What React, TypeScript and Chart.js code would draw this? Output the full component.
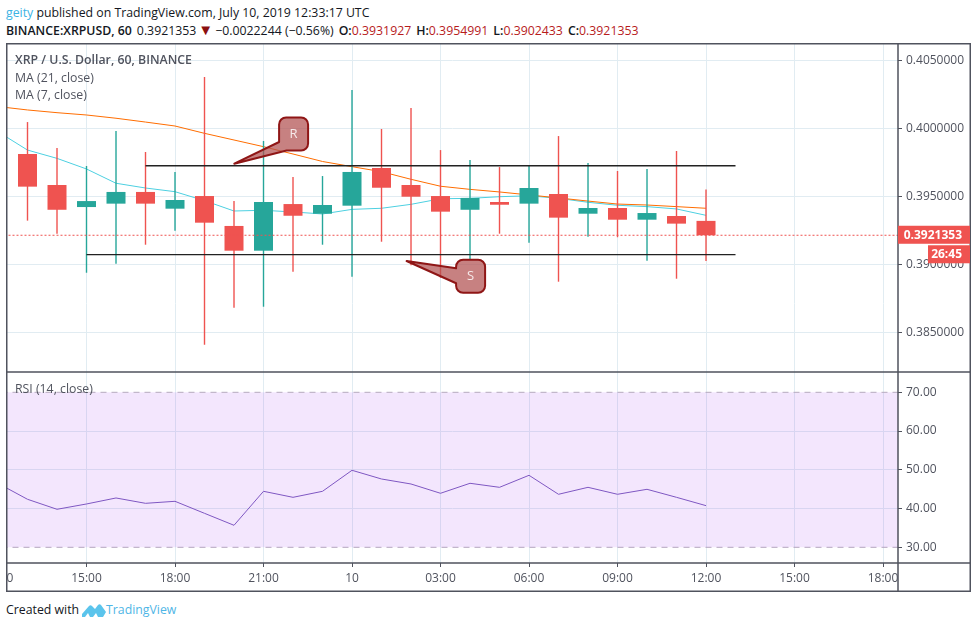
import { Chart, registerables } from "chart.js";
import { useEffect, useRef } from "react";

Chart.register(...registerables);

const opens = [0.39811, 0.39583, 0.39421, 0.39446, 0.39532, 0.39409, 0.39502, 0.39282, 0.391, 0.39443, 0.39372, 0.39431, 0.39708, 0.39583, 0.39502, 0.39401, 0.39458, 0.39446, 0.39517, 0.39372, 0.39414, 0.39328, 0.39355, 0.3931927];
const highs = [0.40046, 0.39855, 0.39723, 0.3998, 0.39826, 0.39679, 0.40377, 0.39465, 0.39907, 0.39642, 0.39649, 0.40282, 0.39995, 0.40149, 0.3984, 0.39767, 0.39715, 0.39723, 0.39943, 0.39745, 0.39686, 0.39701, 0.39833, 0.3954991];
const lows = [0.39321, 0.39225, 0.38938, 0.39004, 0.39144, 0.39247, 0.38409, 0.38681, 0.38688, 0.38946, 0.39144, 0.38909, 0.39166, 0.38993, 0.38901, 0.39032, 0.39225, 0.39159, 0.38872, 0.39203, 0.39199, 0.39026, 0.38894, 0.3902433];
const closes = [0.39571, 0.39401, 0.39465, 0.39532, 0.39446, 0.39473, 0.39306, 0.391, 0.39458, 0.39357, 0.39436, 0.39679, 0.39563, 0.39497, 0.39387, 0.39488, 0.39438, 0.39561, 0.39343, 0.39414, 0.39328, 0.39377, 0.39299, 0.3921353];

// both averages and the RSI start one bar before the first visible candle
const ma21 = [0.4016, 0.40135, 0.40115, 0.40098, 0.40074, 0.40046, 0.40017, 0.39963, 0.39914, 0.39865, 0.39811, 0.39756, 0.39718, 0.39681, 0.39625, 0.39574, 0.39551, 0.39532, 0.3951, 0.39488, 0.39465, 0.39443, 0.39436, 0.39424, 0.39412];
const ma7 = [0.39975, 0.3984, 0.39779, 0.39701, 0.39596, 0.39561, 0.39534, 0.39468, 0.39392, 0.39397, 0.39385, 0.3937, 0.39404, 0.39412, 0.39441, 0.39482, 0.39485, 0.39497, 0.39504, 0.39485, 0.39456, 0.39434, 0.39424, 0.39407, 0.3936];
const rsi = [46.5, 42.39, 39.81, 41.18, 42.73, 41.35, 41.87, 38.77, 35.68, 44.45, 42.9, 44.45, 49.87, 47.63, 46.34, 43.94, 46.52, 45.48, 48.58, 43.68, 45.48, 43.68, 44.97, 42.9, 40.75];

const timeTicks = [-1, 2, 5, 8, 11, 14, 17, 20, 23, 26, 29];
const timeLabels = ["12:00", "15:00", "18:00", "21:00", "10", "03:00", "06:00", "09:00", "12:00", "15:00", "18:00"];

const lastPrice = 0.3921353;
const resistance = 0.39725;
const support = 0.39071;
const resistanceFrom = 4;
const supportFrom = 2;
const levelsTo = 24;

const RED = "#ef5350";
const TEAL = "#26a69a";
const INK = "#50535e";
const GRID = "#e1ecf2";
const FONT = "'Open Sans', sans-serif";

const bar = (i: number) => i - 1;
const flat = (y: number, from = -2, to = 31) => [
  { x: from, y },
  { x: to, y },
];

const calloutPlugin = {
  id: "callouts",
  afterDatasetsDraw(chart: any) {
    const { ctx, scales } = chart;
    const hw = 14.5;
    const hh = 16.5;
    const r = 7;
    const draw = (label: string, tipX: number, tipY: number, cX: number, cY: number, onBottom: boolean) => {
      const tx = scales.x.getPixelForValue(tipX);
      const ty = scales.price.getPixelForValue(tipY);
      const cx = scales.x.getPixelForValue(cX);
      const cy = scales.price.getPixelForValue(cY);
      const [l, rt, t, b] = [cx - hw, cx + hw, cy - hh, cy + hh];
      ctx.save();
      ctx.beginPath();
      ctx.moveTo(tx, ty);
      ctx.lineTo(l, onBottom ? cy + 8 : cy - 8);
      ctx.arcTo(l, t, rt, t, r);
      ctx.arcTo(rt, t, rt, b, r);
      ctx.arcTo(rt, b, l, b, r);
      if (onBottom) {
        ctx.lineTo(cx - 7, b);
      } else {
        ctx.arcTo(l, b, l, t, r);
        ctx.lineTo(l, cy + 7);
      }
      ctx.closePath();
      ctx.fillStyle = "rgba(178,80,80,0.72)";
      ctx.strokeStyle = "#8f1616";
      ctx.lineWidth = 2;
      ctx.lineJoin = "round";
      ctx.fill();
      ctx.stroke();
      ctx.fillStyle = "#f6eaea";
      ctx.font = `13px ${FONT}`;
      ctx.textAlign = "center";
      ctx.textBaseline = "middle";
      ctx.fillText(label, cx, cy);
      ctx.restore();
    };
    draw("R", 7.01, 0.3974, 9.02, 0.39958, true);
    draw("S", 12.85, 0.39024, 15.02, 0.38912, false);
  },
};

const framePlugin = {
  id: "frame",
  afterDraw(chart: any) {
    const { ctx, chartArea, scales, width, height } = chart;
    const { left, right, top, bottom } = chartArea;
    ctx.save();
    // time labels stop at the price axis
    ctx.fillStyle = "#fff";
    ctx.fillRect(right, bottom, width - right, height - bottom);

    ctx.strokeStyle = INK;
    ctx.lineWidth = 1.5;
    ctx.beginPath();
    ctx.rect(left - 0.25, top - 0.25, width - left - 0.5, height - top - 0.5);
    ctx.moveTo(right, top);
    ctx.lineTo(right, height);
    ctx.moveTo(left, scales.rsi.top);
    ctx.lineTo(width, scales.rsi.top);
    ctx.moveTo(left, bottom);
    ctx.lineTo(width, bottom);
    ctx.stroke();

    // last price and countdown tags
    const y = scales.price.getPixelForValue(lastPrice);
    ctx.fillStyle = RED;
    ctx.fillRect(right, y - 9.5, width - right - 1, 18);
    ctx.fillRect(right + 30, y + 10, width - right - 31, 18);
    ctx.fillStyle = "#fff";
    ctx.font = `bold 12px ${FONT}`;
    ctx.textBaseline = "middle";
    ctx.textAlign = "right";
    ctx.fillText(lastPrice.toFixed(7), right + 64, y);
    ctx.fillText("26:45", right + 64, y + 19.5);
    ctx.restore();
  },
};

function PriceChart() {
  const canvasRef = useRef<HTMLCanvasElement | null>(null);

  useEffect(() => {
    if (!canvasRef.current) return;

    const line = (data: any[], yAxisID: string, color: string, order: number, extra = {}) => ({
      type: "line" as const,
      data,
      yAxisID,
      xAxisID: "x",
      order,
      borderColor: color,
      borderWidth: 1,
      pointRadius: 0,
      tension: 0,
      fill: false,
      ...extra,
    });

    const colors = closes.map((c, i) => (c >= opens[i] ? TEAL : RED));

    const sideAxis = (stackWeight: number, weight: number) => ({
      type: "linear" as const,
      position: "right" as const,
      stack: "panes",
      stackWeight,
      weight,
      border: { display: false },
      afterFit: (scale: any) => {
        scale.width = 72;
        scale.paddingTop = 0;
        scale.paddingBottom = 0;
      },
    });

    const tickFont = { family: FONT, size: 12 };

    const chart = new Chart(canvasRef.current, {
      type: "bar",
      plugins: [calloutPlugin, framePlugin],
      data: {
        datasets: [
          line(flat(resistance, resistanceFrom, levelsTo), "price", "#222", 1, { borderWidth: 1.4 }),
          line(flat(support, supportFrom, levelsTo), "price", "#222", 1, { borderWidth: 1.4 }),
          line(flat(lastPrice), "price", RED, 2, { borderDash: [2, 2] }),
          {
            data: opens.map((o, i) => ({ x: i, y: [o, closes[i]] })),
            yAxisID: "price",
            xAxisID: "x",
            order: 3,
            grouped: false,
            barThickness: 19,
            inflateAmount: 0,
            backgroundColor: colors,
            borderWidth: 0,
          },
          {
            data: lows.map((l, i) => ({ x: i, y: [l, highs[i]] })),
            yAxisID: "price",
            xAxisID: "x",
            order: 4,
            grouped: false,
            barThickness: 1.4,
            inflateAmount: 0,
            backgroundColor: colors,
            borderWidth: 0,
          },
          line(ma21.map((y, i) => ({ x: bar(i), y })), "price", "#ff6d00", 5),
          line(ma7.map((y, i) => ({ x: bar(i), y })), "price", "#4dd0e1", 5),
          line(rsi.map((y, i) => ({ x: bar(i), y })), "rsi", "#7e57c2", 6),
          line(flat(70), "rsi", "#b5a9bd", 7, {
            borderDash: [6, 5],
            fill: { value: 30 },
            backgroundColor: "rgba(160,60,240,0.13)",
          }),
          line(flat(30), "rsi", "#b5a9bd", 7, { borderDash: [6, 5] }),
        ] as any,
      },
      options: {
        responsive: false,
        animation: false,
        events: [],
        layout: { padding: { left: 1, top: 1, right: 1, bottom: 1 } },
        plugins: { legend: { display: false }, tooltip: { enabled: false } },
        scales: {
          x: {
            type: "linear",
            offset: false,
            min: -0.695,
            max: 29.508,
            grid: { offset: false, color: GRID, tickColor: INK, tickLength: 4 },
            border: { display: false },
            afterBuildTicks: (scale: any) => {
              scale.ticks = timeTicks.map((value) => ({ value }));
            },
            afterFit: (scale: any) => {
              scale.height = 28;
              scale.paddingLeft = 0;
              scale.paddingRight = 0;
            },
            ticks: {
              autoSkip: false,
              maxRotation: 0,
              color: INK,
              font: tickFont,
              padding: 4,
              callback: (_v: any, i: number) => timeLabels[i],
            },
          },
          price: {
            ...sideAxis(328, 1),
            min: 0.38208,
            max: 0.4062,
            grid: { color: GRID, tickColor: INK, tickLength: 4 },
            ticks: {
              stepSize: 0.005,
              includeBounds: false,
              color: INK,
              font: tickFont,
              padding: 4,
              callback: (v: any) => Number(v).toFixed(7),
            },
          },
          rsi: {
            ...sideAxis(191, 2),
            min: 25.95,
            max: 75.24,
            grid: {
              color: (c: any) => (c.tick.value === 30 || c.tick.value === 70 ? "transparent" : GRID),
              tickColor: INK,
              tickLength: 4,
            },
            ticks: {
              stepSize: 10,
              includeBounds: false,
              color: INK,
              font: tickFont,
              padding: 4,
              callback: (v: any) => Number(v).toFixed(2),
            },
          },
        },
      } as any,
    });

    return () => chart.destroy();
  }, []);

  return (
    <canvas
      ref={canvasRef}
      width={965}
      height={549}
      style={{ position: "absolute", left: 6, top: 43 }}
    />
  );
}

const textAt = (left: number, top: number, extra = {}) => ({
  position: "absolute" as const,
  left,
  top,
  whiteSpace: "nowrap" as const,
  lineHeight: "16px",
  ...extra,
});

const darkRed = { color: "#b71c1c" };
const strong = { fontWeight: 600 };

export default function App() {
  return (
    <div
      style={{
        position: "absolute",
        left: 0,
        top: 0,
        width: 977,
        height: 628,
        background: "#fff",
        overflow: "hidden",
        fontFamily: FONT,
        fontSize: 12.3,
        color: "#131722",
      }}
    >
      <PriceChart />
      <div style={textAt(6, 5)}>
        <span style={{ color: "#3bb3e4" }}>geity</span> published on TradingView.com, July 10, 2019 12:33:17 UTC
      </div>
      <div style={textAt(6, 22)}>
        <span style={strong}>BINANCE:XRPUSD, 60</span>
        <span style={{ marginLeft: 5 }}>0.3921353</span>
        <span style={{ color: "#8b1010", marginLeft: 2, fontSize: 15, lineHeight: "14px" }}>▼</span>
        <span style={{ marginLeft: 2 }}>−0.0022244 (−0.56%)</span>
        <span style={{ ...strong, marginLeft: 5 }}>O:</span><span style={darkRed}>0.3931927</span>
        <span style={{ ...strong, marginLeft: 5 }}>H:</span><span style={darkRed}>0.3954991</span>
        <span style={{ ...strong, marginLeft: 5 }}>L:</span><span style={darkRed}>0.3902433</span>
        <span style={{ ...strong, marginLeft: 5 }}>C:</span><span style={darkRed}>0.3921353</span>
      </div>
      <div style={textAt(15, 52, { color: INK, fontWeight: 600 })}>XRP / U.S. Dollar, 60, BINANCE</div>
      <div style={textAt(15, 70, { color: INK })}>MA (21, close)</div>
      <div style={textAt(15, 87, { color: INK })}>MA (7, close)</div>
      <div style={textAt(15, 381, { color: INK })}>RSI (14, close)</div>
      <div style={textAt(6, 602)}>Created with</div>
      <svg style={{ position: "absolute", left: 82, top: 602 }} width={24} height={16} viewBox="0 0 24 16">
        <path
          d="M0 15 L0 12 L7 4 Q8.5 2.5 10 4 L13 7 L16 3 Q17.5 1.5 19 3 L24 10 L21 15 L16 15 L14 11 L11 15 L8 15 L6 11 L3 15 Z"
          fill="#5bc4ec"
        />
      </svg>
      <div style={textAt(106, 602, { color: "#4fb6e6" })}>TradingView</div>
    </div>
  );
}
